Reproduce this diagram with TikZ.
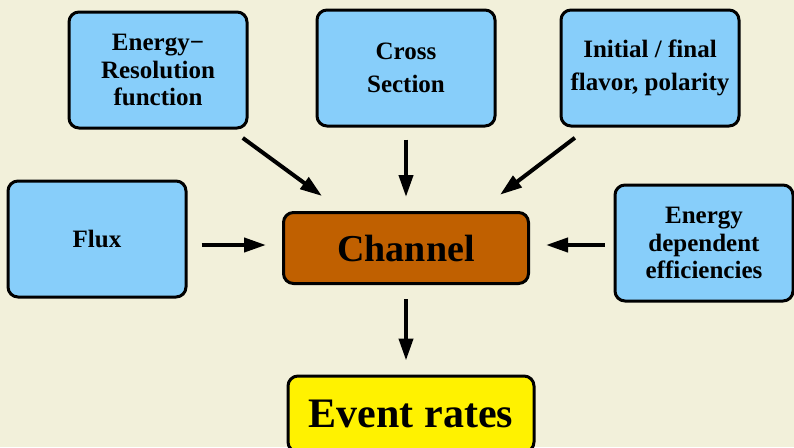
\documentclass[tikz,border=0pt]{standalone}
\usepackage{fontspec}
\setmainfont{Liberation Serif}
\usetikzlibrary{arrows.meta}

\definecolor{bgbeige}{RGB}{242,240,218}
\definecolor{boxblue}{RGB}{135,206,250}
\definecolor{chanbrown}{RGB}{192,96,0}

\tikzset{
  inbox/.style={draw, rectangle, rounded corners=10pt, line width=3pt, fill=boxblue,
    minimum width=178pt, minimum height=116pt, inner sep=0pt, align=center,
    font=\fontsize{25}{27.5}\selectfont\bfseries},
  arr/.style={-{Triangle[length=22pt,width=14pt]}, line width=4pt}
}

\begin{document}
\begin{tikzpicture}[x=1pt, y=-1pt]
				\fill[bgbeige] (0,0) rectangle (794,447);
				\useasboundingbox (0,0) rectangle (794,447);
				\clip (0,0) rectangle (794,447);
				\node[inbox] (eres)at(158, 70) {Energy−\\Resolution\\function};
				\node[inbox] (xsec)at(406, 68) {Cross\\[5.5pt]Section};
				\node[inbox] (flav)at(650, 68) {Initial / final\\[5.5pt]flavor, polarity};
				\node[inbox] (flux)at(97, 239) {Flux};
				\node[inbox] (effic)at(704, 243) {Energy\\dependent\\efficiencies};
				\node[draw, rectangle, rounded corners=10pt, line width=3pt, fill=chanbrown, minimum width=245pt, minimum height=71pt, font=\fontsize{38}{40}\selectfont\bfseries] (chan)at(406, 248) {Channel};
				\node[draw, rectangle, rounded corners=10pt, line width=3pt, fill=yellow, minimum width=246pt, minimum height=76pt, font=\fontsize{42}{44}\selectfont\bfseries] (rates)at(411, 414) {Event rates};
				\draw[arr, shorten <=115pt, shorten >=88pt] ([xshift=-8pt]eres.center) -- ([xshift=-13pt]chan.center);
				\draw[arr, shorten <=12pt, shorten >=14pt] (xsec) -- (chan);
				\draw[arr, shorten <=112pt, shorten >=88pt] ([xshift=14pt, yshift=-2pt]flav.center) -- ([xshift=24pt]chan.center);
				\draw[arr, shorten <=14pt, shorten >=16pt] (flux.east |- 0,245) -- (chan.west |- 0,245);
				\draw[arr, shorten <=9pt, shorten >=16pt] (effic.west |- 0,245) -- (chan.east |- 0,245);
				\draw[arr, shorten <=14pt, shorten >=14pt] (chan.south) -- (chan.south |- rates.north);
			\end{tikzpicture}
\end{document}
